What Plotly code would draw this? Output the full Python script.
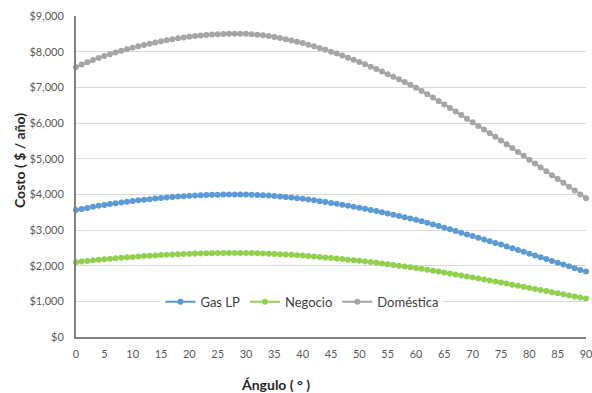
import plotly.graph_objects as go

# Tilt angle in degrees (one point per degree)
angulo = list(range(0, 91))

# Annual cost per tilt angle, $ / year
domestica = [
    7570, 7638, 7702, 7764, 7824, 7880, 7930, 7978, 8024, 8068,
    8110, 8150, 8188, 8224, 8258, 8290, 8320, 8348, 8374, 8398,
    8420, 8439, 8455, 8469, 8481, 8490, 8496, 8500, 8502, 8502,
    8500, 8490, 8476, 8458, 8436, 8410, 8380, 8348, 8314, 8278,
    8240, 8196, 8150, 8102, 8052, 8000, 7946, 7890, 7832, 7772,
    7710, 7646, 7580, 7512, 7442, 7370, 7298, 7224, 7148, 7070,
    6990, 6900, 6808, 6714, 6618, 6520, 6422, 6323, 6223, 6122,
    6020, 5918, 5816, 5714, 5612, 5510, 5404, 5297, 5189, 5080,
    4970, 4862, 4754, 4646, 4538, 4430, 4322, 4214, 4106, 3998,
    3890,
]

gas_lp = [
    3558, 3590, 3620, 3649, 3677, 3704, 3727, 3750, 3771, 3792,
    3812, 3831, 3848, 3865, 3881, 3896, 3910, 3924, 3936, 3947,
    3957, 3966, 3974, 3980, 3986, 3990, 3993, 3995, 3996, 3996,
    3995, 3990, 3984, 3975, 3965, 3953, 3939, 3924, 3908, 3891,
    3873, 3852, 3831, 3808, 3784, 3760, 3735, 3708, 3681, 3653,
    3624, 3594, 3563, 3531, 3498, 3464, 3430, 3395, 3360, 3323,
    3285, 3243, 3200, 3156, 3110, 3064, 3018, 2972, 2925, 2877,
    2829, 2781, 2734, 2686, 2638, 2590, 2540, 2490, 2439, 2388,
    2336, 2285, 2234, 2184, 2133, 2082, 2031, 1981, 1930, 1879,
    1836,
]

negocio = [
    2097, 2116, 2133, 2151, 2167, 2183, 2197, 2210, 2223, 2235,
    2246, 2258, 2268, 2278, 2287, 2296, 2305, 2312, 2320, 2326,
    2332, 2338, 2342, 2346, 2349, 2352, 2353, 2355, 2355, 2355,
    2355, 2352, 2348, 2343, 2337, 2330, 2321, 2312, 2303, 2293,
    2282, 2270, 2258, 2244, 2230, 2216, 2201, 2186, 2169, 2153,
    2136, 2118, 2100, 2081, 2061, 2041, 2022, 2001, 1980, 1958,
    1936, 1911, 1886, 1860, 1833, 1806, 1779, 1751, 1724, 1696,
    1668, 1639, 1611, 1583, 1555, 1526, 1497, 1467, 1437, 1407,
    1377, 1347, 1317, 1287, 1257, 1227, 1197, 1167, 1137, 1107,
    1078,
]

x_ticks = list(range(0, 91, 5))

series = [
    ("Gas LP", gas_lp, "#5B9BD5"),
    ("Negocio", negocio, "#8FD14F"),
    ("Doméstica", domestica, "#A5A5A5"),
]

FONT = "Lato, 'Open Sans', sans-serif"

fig = go.Figure()
for name, values, color in series:
    fig.add_trace(go.Scatter(
        x=angulo, y=values, name=name, mode="lines+markers",
        line=dict(color=color, width=2),
        marker=dict(color=color, size=6),
        cliponaxis=False,
    ))

fig.update_layout(
    width=592, height=393,
    margin=dict(l=76, r=6, t=16, b=56),
    paper_bgcolor="white", plot_bgcolor="white",
    font=dict(family=FONT, size=11, color="#595959"),
    showlegend=True,
    legend=dict(
        orientation="h", x=0.443, y=0.11, xanchor="center", yanchor="middle",
        bgcolor="white", font=dict(family=FONT, size=13, color="#404040"),
        itemwidth=30, tracegroupgap=0,
    ),
    xaxis=dict(
        range=[0, 90.0001], tickmode="array", tickvals=x_ticks,
        ticktext=[str(v) for v in x_ticks],
        showgrid=False, zeroline=False, automargin=False,
        showline=True, linecolor="#808080", linewidth=1.5,
        ticks="", ticklabelstandoff=6, ticklabeloverflow="allow",
    ),
    yaxis=dict(
        range=[0, 9000], tickmode="linear", tick0=0, dtick=1000,
        tickformat="$,.0f", automargin=False,
        showgrid=True, gridcolor="#D9D9D9", gridwidth=1,
        zeroline=False,
        showline=True, linecolor="#808080", linewidth=2,
        ticks="", ticklabelstandoff=8,
    ),
    annotations=[
        dict(text="<b>Ángulo ( ° )</b>", xref="paper", yref="paper",
             x=0.392, y=-0.115, yanchor="top", showarrow=False,
             font=dict(family=FONT, size=14, color="#262626")),
        dict(text="<b>Costo ( $ / año)</b>", xref="paper", yref="paper",
             x=-0.112, y=0.551, xanchor="center", yanchor="middle",
             textangle=-90, showarrow=False,
             font=dict(family=FONT, size=14, color="#262626")),
    ],
)

fig.write_html("out.html")
